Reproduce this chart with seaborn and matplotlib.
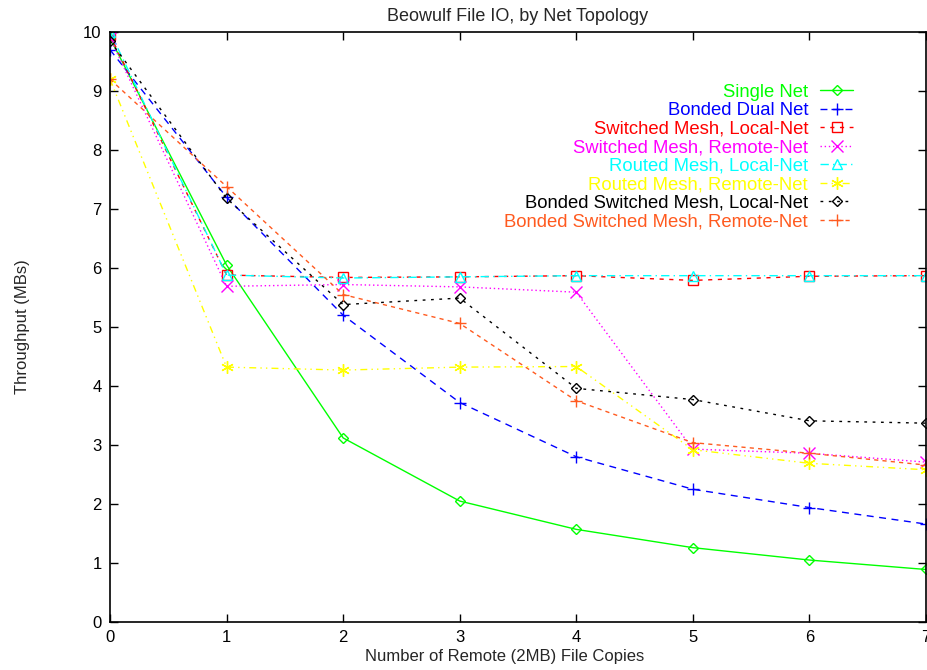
import matplotlib
matplotlib.use("Agg")
import matplotlib.pyplot as plt
import seaborn as sns
import pandas as pd

copies = [0, 1, 2, 3, 4, 5, 6, 7]

single_net = [9.9, 6.05, 3.12, 2.05, 1.57, 1.26, 1.05, 0.89]
bonded_dual = [9.7, 7.2, 5.2, 3.72, 2.8, 2.25, 1.94, 1.66]
switched_local = [9.95, 5.88, 5.84, 5.85, 5.87, 5.79, 5.86, 5.87]
switched_remote = [9.9, 5.69, 5.72, 5.68, 5.59, 2.93, 2.86, 2.71]
routed_local = [10.0, 5.88, 5.83, 5.85, 5.87, 5.87, 5.87, 5.87]
routed_remote = [9.2, 4.32, 4.27, 4.32, 4.33, 2.92, 2.69, 2.58]
bonded_sw_local = [9.85, 7.18, 5.38, 5.49, 3.96, 3.77, 3.41, 3.37]
bonded_sw_remote = [9.2, 7.38, 5.55, 5.06, 3.75, 3.04, 2.86, 2.66]

labels = ["Single Net", "Bonded Dual Net", "Switched Mesh, Local-Net",
          "Switched Mesh, Remote-Net", "Routed Mesh, Local-Net",
          "Routed Mesh, Remote-Net", "Bonded Switched Mesh, Local-Net",
          "Bonded Switched Mesh, Remote-Net"]
series = [single_net, bonded_dual, switched_local, switched_remote,
          routed_local, routed_remote, bonded_sw_local, bonded_sw_remote]

colors = ["#00ff00", "#0000ff", "#ff0000", "#ff00ff", "#00ffff", "#ffff00",
          "#000000", "#ff5a1f"]
markers = ["D", "+", "s", "x", "^", (6, 2, 0), "D", "+"]
msizes = [5, 8, 7, 8, 7, 9, 5, 8]
styles = ["-", (0, (5, 4)), (0, (3, 4)), (0, (1, 2)), (0, (6, 3, 1, 3)),
          (0, (5, 3, 1, 3, 1, 3)), (0, (2, 4)), (0, (3, 3))]

sns.set_style("ticks")
plt.rcParams['font.family'] = ['Liberation Sans', 'DejaVu Sans']

fig = plt.figure(figsize=(9.28, 6.70), dpi=100)
ax = fig.add_axes([110/928, 48/670, 816/928, 590/670])

for lab, vals, c, m, ms, ls in zip(labels, series, colors, markers, msizes, styles):
    df = pd.DataFrame({"x": copies, "y": vals})
    mfc = "none" if m in ("D", "s", "^") else c
    sns.lineplot(data=df, x="x", y="y", ax=ax, color=c, marker=m,
                 markersize=ms, markerfacecolor=mfc, markeredgecolor=c,
                 markeredgewidth=1.0, linewidth=1.0, linestyle=ls, label=lab)

ax.set_xlim(0, 7)
ax.set_ylim(0, 10)
ax.set_xticks(range(0, 8))
ax.set_yticks(range(0, 11))
ax.tick_params(direction="in", length=6, width=1, top=True, right=True,
               labelsize=12, colors="black", pad=6)
for s in ax.spines.values():
    s.set_linewidth(1.2)
    s.set_color("black")

ax.set_title("Beowulf File IO, by Net Topology", fontsize=13, pad=8)
ax.set_xlabel("Number of Remote (2MB) File Copies", fontsize=12, labelpad=4)
ax.xaxis.set_label_coords(0.483, -0.045)
ax.set_ylabel("Throughput (MBs)", fontsize=12, labelpad=38)

leg = ax.legend(loc="upper right", bbox_to_anchor=(0.911, 0.912),
                frameon=False, markerfirst=False, fontsize=13.3,
                labelcolor="linecolor", handlelength=1.8, handletextpad=0.65,
                labelspacing=0.08, borderaxespad=0, borderpad=0)

fig.savefig("out.png", dpi=100)
